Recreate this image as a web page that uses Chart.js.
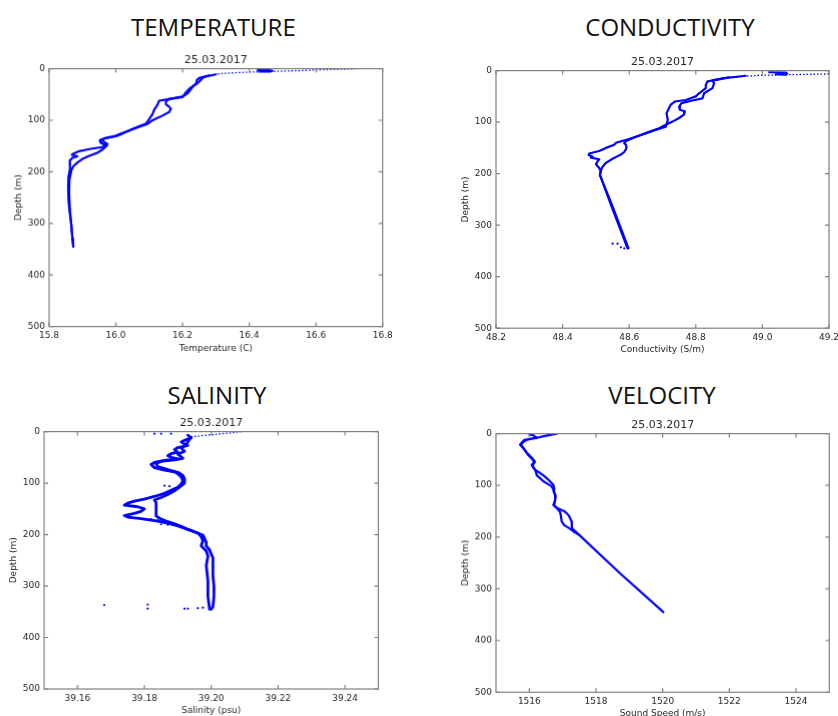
<!DOCTYPE html>
<html>
<head>
<meta charset="utf-8">
<title>CTD profiles 25.03.2017</title>
<script src="https://cdn.jsdelivr.net/npm/chart.js@4.4.0/dist/chart.umd.min.js"></script>
<style>
  html, body { margin: 0; padding: 0; background: #fff; }
  body { width: 838px; height: 716px; position: relative; overflow: hidden; }
  .heading {
    position: absolute; width: 300px; text-align: center;
    font-family: 'Open Sans', sans-serif; font-size: 24px; line-height: 24px; color: #111;
  }
  .panel { position: absolute; }
</style>
</head>
<body>
<div class="heading" style="left:63.4px; top:14.5px">TEMPERATURE</div>
<div class="heading" style="left:520px; top:14.5px">CONDUCTIVITY</div>
<div class="heading" style="left:67px; top:383.2px">SALINITY</div>
<div class="heading" style="left:512px; top:383.2px">VELOCITY</div>

<div class="panel" id="tempPanel"><canvas id="tempChart"></canvas></div>
<div class="panel" id="condPanel"><canvas id="condChart"></canvas></div>
<div class="panel" id="salPanel"><canvas id="salChart"></canvas></div>
<div class="panel" id="velPanel"><canvas id="velChart"></canvas></div>

<script>
// tick labels
const depthTicks = [0, 100, 200, 300, 400, 500];
const tempTicks = [15.8, 16.0, 16.2, 16.4, 16.6, 16.8];
const condTicks = [48.2, 48.4, 48.6, 48.8, 49.0, 49.2];
const salTicks = [39.16, 39.18, 39.20, 39.22, 39.24];
const velTicks = [1516, 1518, 1520, 1522, 1524];

// temperature (C) vs depth (m)
const tempADepth = [13, 18, 22, 30, 39, 46, 55, 59, 62, 70, 80, 88, 98, 107, 114, 120, 126, 131, 135, 139, 144, 148, 152, 156, 160, 164, 167, 170, 173, 178, 186, 195, 210, 230, 255, 280, 305, 330, 345];
const tempAValue = [16.28, 16.25, 16.243, 16.24, 16.22, 16.21, 16.20, 16.16, 16.13, 16.125, 16.115, 16.11, 16.10, 16.09, 16.06, 16.04, 16.02, 16.0, 15.97, 15.952, 15.955, 15.97, 15.96, 15.92, 15.89, 15.875, 15.868, 15.885, 15.87, 15.862, 15.863, 15.862, 15.858, 15.857, 15.858, 15.862, 15.867, 15.87, 15.872];
const tempBDepth = [11, 15, 18, 22, 28, 33, 40, 48, 54, 59, 64, 69, 74, 78, 84, 91, 97, 102, 107, 114, 120, 126, 131, 134, 138, 142, 146, 150, 156, 163, 169, 175, 182, 189, 196, 203, 215, 240, 270, 300, 330, 345];
const tempBValue = [16.30, 16.27, 16.26, 16.255, 16.245, 16.233, 16.225, 16.215, 16.20, 16.16, 16.15, 16.15, 16.16, 16.165, 16.16, 16.14, 16.12, 16.105, 16.095, 16.065, 16.04, 16.015, 15.995, 15.97, 15.955, 15.965, 15.975, 15.972, 15.962, 15.945, 15.92, 15.90, 15.885, 15.873, 15.867, 15.865, 15.861, 15.86, 15.862, 15.866, 15.87, 15.873];
const tempSurfDepth = [0, 0.7, 1.3, 2, 3, 3.8, 4.5, 5.2, 6.5, 7.5, 8.5, 10, 11];
const tempSurfValue = [16.72, 16.69, 16.66, 16.62, 16.58, 16.55, 16.51, 16.48, 16.40, 16.37, 16.34, 16.31, 16.30];
const tempBlobDepth = [2.5, 2.5, 4, 5.5, 5.5, 4];
const tempBlobValue = [16.425, 16.46, 16.47, 16.465, 16.43, 16.445];

// conductivity (S/m) vs depth (m)
const condADepth = [13, 17, 21, 28, 34, 44, 50, 57, 60, 66, 72, 83, 96, 109, 118, 125, 131, 140, 144, 150, 156, 161, 164, 167, 169, 172, 176, 182, 189, 196, 202, 260, 345];
const condAValue = [48.90, 48.87, 48.835, 48.83, 48.83, 48.81, 48.80, 48.77, 48.737, 48.725, 48.72, 48.712, 48.716, 48.71, 48.665, 48.635, 48.61, 48.56, 48.555, 48.53, 48.51, 48.48, 48.478, 48.49, 48.485, 48.51, 48.505, 48.50, 48.51, 48.515, 48.512, 48.545, 48.595];
const condBDepth = [10, 15, 19, 25, 34, 44, 54, 58, 63, 70, 76, 79, 85, 92, 99, 105, 112, 118, 125, 131, 137, 141, 144, 149, 153, 158, 163, 171, 179, 185, 189, 196, 203, 260, 345];
const condBValue = [48.95, 48.88, 48.85, 48.855, 48.85, 48.825, 48.82, 48.79, 48.757, 48.75, 48.752, 48.767, 48.765, 48.75, 48.73, 48.71, 48.69, 48.665, 48.635, 48.61, 48.59, 48.585, 48.59, 48.592, 48.59, 48.585, 48.575, 48.55, 48.53, 48.522, 48.518, 48.514, 48.512, 48.548, 48.598];
const condSurfDepth = [6.5, 7, 7.5, 8, 8.5, 9, 10, 11, 12, 13];
const condSurfValue = [49.2, 49.16, 49.12, 49.08, 49.04, 49.0, 48.97, 48.95, 48.93, 48.91];
const condBlobDepth = [3, 3.5, 6, 7, 8];
const condBlobValue = [49.02, 49.07, 49.075, 49.04, 49.07];
const condDotDepth = [336, 336, 343, 345];
const condDotValue = [48.55, 48.565, 48.575, 48.585];

// salinity (psu) vs depth (m)
const salADepth = [7, 12, 17, 20, 24, 27, 31, 35, 40, 43, 47, 50, 53, 56, 60, 64, 70, 75, 78, 82, 88, 95, 102, 108, 114, 120, 126, 131, 135, 139, 143, 146, 150, 155, 159, 163, 166, 169, 174, 178, 183, 190, 197, 204, 212, 222, 232, 242, 260, 290, 320, 345];
const salAValue = [39.193, 39.194, 39.192, 39.191, 39.192, 39.193, 39.19, 39.189, 39.19, 39.188, 39.187, 39.188, 39.19, 39.186, 39.183, 39.182, 39.183, 39.186, 39.189, 39.19, 39.191, 39.1915, 39.191, 39.19, 39.188, 39.186, 39.183, 39.18, 39.177, 39.175, 39.174, 39.178, 39.18, 39.179, 39.177, 39.174, 39.175, 39.179, 39.184, 39.187, 39.19, 39.193, 39.196, 39.197, 39.1975, 39.197, 39.1985, 39.199, 39.1985, 39.199, 39.199, 39.1995];
const salBDepth = [11, 15, 20, 26, 32, 38, 44, 49, 52, 55, 58, 62, 68, 74, 79, 85, 92, 100, 108, 115, 122, 128, 133, 138, 142, 146, 152, 158, 164, 170, 175, 179, 184, 190, 196, 201, 208, 215, 222, 230, 238, 245, 260, 280, 300, 320, 340, 345];
const salBValue = [39.194, 39.1935, 39.193, 39.1925, 39.191, 39.192, 39.19, 39.191, 39.1915, 39.189, 39.185, 39.1835, 39.184, 39.187, 39.19, 39.1915, 39.192, 39.192, 39.1905, 39.189, 39.187, 39.185, 39.183, 39.1835, 39.1835, 39.1835, 39.1835, 39.1835, 39.1835, 39.185, 39.187, 39.189, 39.191, 39.193, 39.1955, 39.1975, 39.198, 39.1985, 39.1985, 39.1995, 39.2, 39.2005, 39.2005, 39.2005, 39.2008, 39.2008, 39.2005, 39.2];
const salSurfDepth = [0, 3, 6, 8, 10];
const salSurfValue = [39.209, 39.205, 39.2, 39.197, 39.194];
const salDotDepth = [4, 4, 4, 105, 106, 170, 170, 172, 180, 181, 337, 336, 344, 344, 344, 343, 342];
const salDotValue = [39.183, 39.185, 39.188, 39.186, 39.1875, 39.18, 39.182, 39.184, 39.185, 39.187, 39.168, 39.181, 39.181, 39.192, 39.193, 39.196, 39.1975];

// sound speed (m/s) vs depth (m)
const velADepth = [0, 4, 8, 12, 17, 21, 28, 37, 45, 50, 54, 60, 66, 72, 76, 82, 89, 95, 99, 106, 112, 118, 125, 132, 138, 144, 151, 160, 170, 177, 183, 190, 196, 270, 345];
const velAValue = [1516.82, 1516.5, 1516.22, 1515.85, 1515.78, 1515.72, 1515.82, 1515.92, 1516.05, 1516.12, 1516.17, 1516.07, 1516.12, 1516.22, 1516.32, 1516.45, 1516.57, 1516.66, 1516.72, 1516.75, 1516.74, 1516.77, 1516.78, 1516.76, 1516.72, 1516.82, 1516.92, 1516.95, 1516.97, 1517.05, 1517.2, 1517.35, 1517.5, 1518.72, 1520.02];
const velBDepth = [8, 12, 17, 22, 30, 40, 50, 56, 62, 70, 75, 80, 86, 92, 97, 102, 108, 112, 120, 130, 138, 144, 150, 157, 163, 170, 177, 183, 190, 196];
const velBValue = [1516.2, 1515.92, 1515.8, 1515.75, 1515.85, 1515.95, 1516.1, 1516.15, 1516.1, 1516.17, 1516.2, 1516.22, 1516.32, 1516.42, 1516.55, 1516.67, 1516.72, 1516.73, 1516.79, 1516.77, 1516.74, 1516.84, 1517.05, 1517.17, 1517.22, 1517.27, 1517.27, 1517.28, 1517.4, 1517.5];
const velTopDepth = [2, 3, 6, 9];
const velTopValue = [1516.0, 1516.12, 1516.18, 1516.2];

const BLUE = '#0000ff';
const TEXT = '#262626';
const FRAME = '#808080';
const FONT = "'DejaVu Sans', sans-serif";

function pts(depths, values) {
    return depths.map((d, i) => ({ x: values[i], y: d }));
}

function lineSet(depths, values, width) {
    return {
        data: pts(depths, values),
        showLine: true,
        borderColor: BLUE,
        borderWidth: width || 2.2,
        borderJoinStyle: 'round',
        borderCapStyle: 'round',
        pointRadius: 0,
        tension: 0
    };
}

function dashSet(depths, values) {
    const ds = lineSet(depths, values, 1.3);
    ds.borderDash = [1.5, 2];
    ds.borderCapStyle = 'butt';
    return ds;
}

function dotSet(depths, values) {
    return {
        data: pts(depths, values),
        showLine: false,
        pointRadius: 1.1,
        pointBackgroundColor: BLUE,
        pointBorderWidth: 0
    };
}

// matplotlib-like frame with inward ticks on all four sides
const frameTicks = {
    id: 'frameTicks',
    afterDatasetsDraw(chart) {
        const { ctx, chartArea: a, scales } = chart;
        ctx.save();
        ctx.strokeStyle = FRAME;
        ctx.lineWidth = 1.2;
        ctx.strokeRect(a.left, a.top, a.right - a.left, a.bottom - a.top);
        ctx.beginPath();
        scales.x.ticks.forEach(t => {
            const px = scales.x.getPixelForValue(t.value);
            ctx.moveTo(px, a.bottom); ctx.lineTo(px, a.bottom - 4);
            ctx.moveTo(px, a.top); ctx.lineTo(px, a.top + 4);
        });
        scales.y.ticks.forEach(t => {
            const py = scales.y.getPixelForValue(t.value);
            ctx.moveTo(a.left, py); ctx.lineTo(a.left + 4, py);
            ctx.moveTo(a.right, py); ctx.lineTo(a.right - 4, py);
        });
        ctx.stroke();
        ctx.restore();
    }
};

// box = plot area on the page
function makePanel(panelId, canvasId, box, xTicks, xMin, xMax, digits, xTitle, datasets) {
    const panel = document.getElementById(panelId);
    panel.style.left = (box.L - 44) + 'px';
    panel.style.top = (box.T - 16.6) + 'px';
    panel.style.width = (box.R - box.L + 74) + 'px';
    panel.style.height = (box.B - box.T + 48.6) + 'px';

    const tickFont = { family: FONT, size: 9 };

    new Chart(document.getElementById(canvasId), {
        type: 'scatter',
        data: { datasets: datasets },
        options: {
            responsive: true,
            maintainAspectRatio: false,
            animation: false,
            layout: { padding: { top: 2, right: 30, bottom: 2, left: 0 } },
            plugins: {
                legend: { display: false },
                tooltip: { enabled: false },
                title: {
                    display: true,
                    text: '25.03.2017',
                    fullSize: false,
                    color: TEXT,
                    font: { family: FONT, size: 11, weight: 'normal' },
                    padding: { top: 0, bottom: 1.4 }
                }
            },
            scales: {
                x: {
                    type: 'linear',
                    position: 'bottom',
                    min: xMin,
                    max: xMax,
                    grid: { display: false, drawTicks: false },
                    border: { display: false },
                    afterBuildTicks: s => { s.ticks = xTicks.map(v => ({ value: v })); },
                    afterFit: s => { s.height = 30; },
                    ticks: {
                        color: TEXT, font: tickFont, padding: 4,
                        maxRotation: 0, autoSkip: false,
                        callback: v => Number(v).toFixed(digits)
                    },
                    title: {
                        display: true, text: xTitle, color: TEXT, font: tickFont,
                        padding: { top: 0, bottom: 2.9 }
                    }
                },
                y: {
                    type: 'linear',
                    reverse: true,
                    min: 0,
                    max: 500,
                    grid: { display: false, drawTicks: false },
                    border: { display: false },
                    afterBuildTicks: s => { s.ticks = depthTicks.map(v => ({ value: v })); },
                    afterFit: s => { s.width = 44; },
                    ticks: {
                        color: TEXT, font: tickFont, padding: 4, autoSkip: false,
                        callback: v => String(v)
                    },
                    title: {
                        display: true, text: 'Depth (m)', color: TEXT, font: tickFont,
                        padding: { top: 8.6, bottom: 0 }
                    }
                }
            }
        },
        plugins: [frameTicks]
    });
}

makePanel('tempPanel', 'tempChart', { L: 49.3, R: 382, T: 69, B: 326 },
    tempTicks, 15.8, 16.8, 1, 'Temperature (C)', [
        lineSet(tempADepth, tempAValue),
        lineSet(tempBDepth, tempBValue),
        dashSet(tempSurfDepth, tempSurfValue),
        lineSet(tempBlobDepth, tempBlobValue, 2)
    ]);

makePanel('condPanel', 'condChart', { L: 496.3, R: 829.3, T: 70.7, B: 328.3 },
    condTicks, 48.2, 49.2, 1, 'Conductivity (S/m)', [
        lineSet(condADepth, condAValue),
        lineSet(condBDepth, condBValue),
        dashSet(condSurfDepth, condSurfValue),
        lineSet(condBlobDepth, condBlobValue, 2),
        dotSet(condDotDepth, condDotValue)
    ]);

makePanel('salPanel', 'salChart', { L: 44.3, R: 377.7, T: 431.3, B: 688.7 },
    salTicks, 39.15, 39.25, 2, 'Salinity (psu)', [
        lineSet(salADepth, salAValue, 2.8),
        lineSet(salBDepth, salBValue, 2.8),
        dashSet(salSurfDepth, salSurfValue),
        dotSet(salDotDepth, salDotValue)
    ]);

makePanel('velPanel', 'velChart', { L: 496, R: 829.3, T: 434, B: 691.7 },
    velTicks, 1515, 1525, 0, 'Sound Speed (m/s)', [
        lineSet(velADepth, velAValue),
        lineSet(velBDepth, velBValue),
        lineSet(velTopDepth, velTopValue, 2)
    ]);
</script>
</body>
</html>
